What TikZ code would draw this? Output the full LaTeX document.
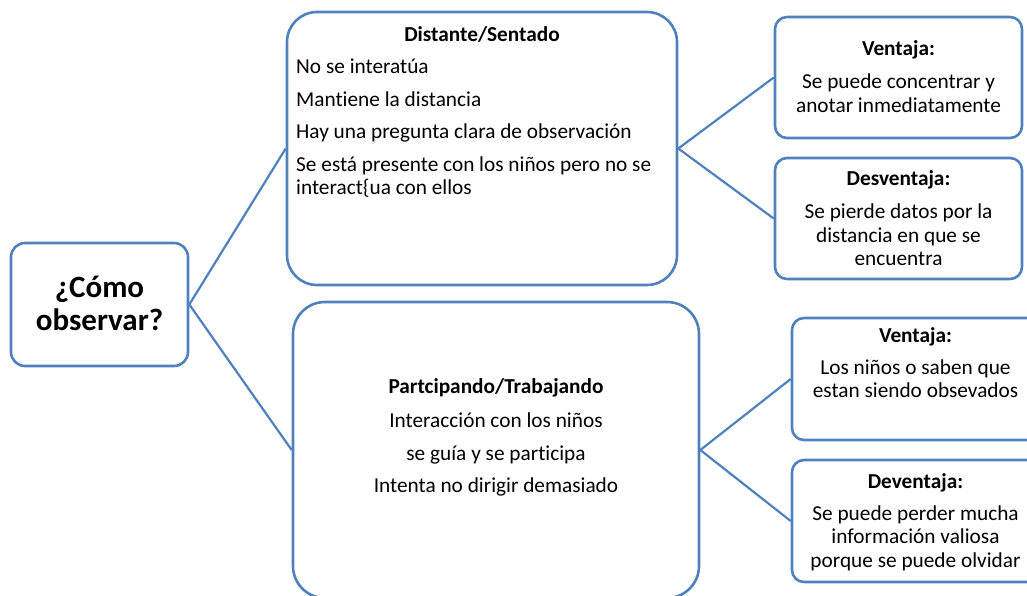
\documentclass[tikz,border=0pt]{standalone}
\usepackage{fontspec}
\setmainfont{Carlito}[Ligatures=NoCommon]
\definecolor{edge}{HTML}{4F81BD}
\begin{document}
\begin{tikzpicture}[x=1pt,y=-1pt,
  box/.style={draw=edge,line width=2.6pt,fill=white,rectangle,inner sep=0pt},
  conn/.style={draw=edge,line width=2.2pt},
  txt/.style={inner sep=0pt,anchor=base,font=\fontsize{21.3}{25}\selectfont},
  ltxt/.style={txt,anchor=base west},
  ttl/.style={txt,font=\fontsize{21.3}{25}\selectfont\bfseries}]
\useasboundingbox (0,0) rectangle (1027,595);
% boxes
\node[box,rounded corners=14pt,minimum width=177pt,minimum height=123pt] (q) at (99.5,304.5) {};
\node[box,rounded corners=30pt,minimum width=390pt,minimum height=273pt] (d) at (482,148.5) {};
\node[box,rounded corners=32pt,minimum width=406pt,minimum height=296pt] (p) at (496,450) {};
\node[box,rounded corners=12pt,minimum width=247pt,minimum height=121pt] (dv) at (898.5,77.5) {};
\node[box,rounded corners=12pt,minimum width=247pt,minimum height=121pt] (dd) at (898.5,218.5) {};
\node[box,rounded corners=12pt,minimum width=247pt,minimum height=122pt] (pv) at (915.5,379) {};
\node[box,rounded corners=12pt,minimum width=247pt,minimum height=122pt] (pd) at (915.5,521) {};
% connectors
\draw[conn] (q.east) -- (d.west);
\draw[conn] (q.east) -- (p.west);
\draw[conn] (d.east) -- (dv.west);
\draw[conn] (d.east) -- (dd.west);
\draw[conn] (p.east) -- (pv.west);
\draw[conn] (p.east) -- (pd.west);
% left box text
\node[txt,font=\fontsize{31}{36}\selectfont\bfseries] (q1) at (99.5,297) {¿Cómo};
\node[txt,font=\fontsize{31}{36}\selectfont\bfseries] (q2) at (99.5,330) {observar?};
% top middle
\node[ttl] (dt) at (482,41) {Distante/Sentado};
\node[ltxt] (d1) at (296,73) {No se interatúa};
\node[ltxt] (d2) at (296,106) {Mantiene la distancia};
\node[ltxt] (d3) at (296,138) {Hay una pregunta clara de observación};
\node[ltxt] (d4) at (296,171) {Se está presente con los niños pero no se};
\node[ltxt] (d5) at (296,194) {interact\{ua con ellos};
% bottom middle
\node[ttl] (pt) at (496,393) {Partcipando/Trabajando};
\node[txt] (p1) at (496,427) {Interacción con los niños};
\node[txt] (p2) at (496,460) {se guía y se participa};
\node[txt] (p3) at (496,492) {Intenta no dirigir demasiado};
% right top boxes
\node[ttl] (dvt) at (898.5,55) {Ventaja:};
\node[txt] (dv1) at (898.5,88) {Se puede concentrar y};
\node[txt] (dv2) at (898.5,112) {anotar inmediatamente};
\node[ttl] (ddt) at (898.5,185) {Desventaja:};
\node[txt] (dd1) at (898.5,218) {Se pierde datos por la};
\node[txt] (dd2) at (898.5,242) {distancia en que se};
\node[txt] (dd3) at (898.5,265) {encuentra};
% right bottom boxes
\node[ttl] (pvt) at (915.5,342) {Ventaja:};
\node[txt] (pv1) at (915.5,374) {Los niños o saben que};
\node[txt] (pv2) at (915.5,397) {estan siendo obsevados};
\node[ttl] (pdt) at (915.5,488) {Deventaja:};
\node[txt] (pd1) at (915.5,520) {Se puede perder mucha};
\node[txt] (pd2) at (915.5,543) {información valiosa};
\node[txt] (pd3) at (915.5,567) {porque se puede olvidar};
\end{tikzpicture}
\end{document}
